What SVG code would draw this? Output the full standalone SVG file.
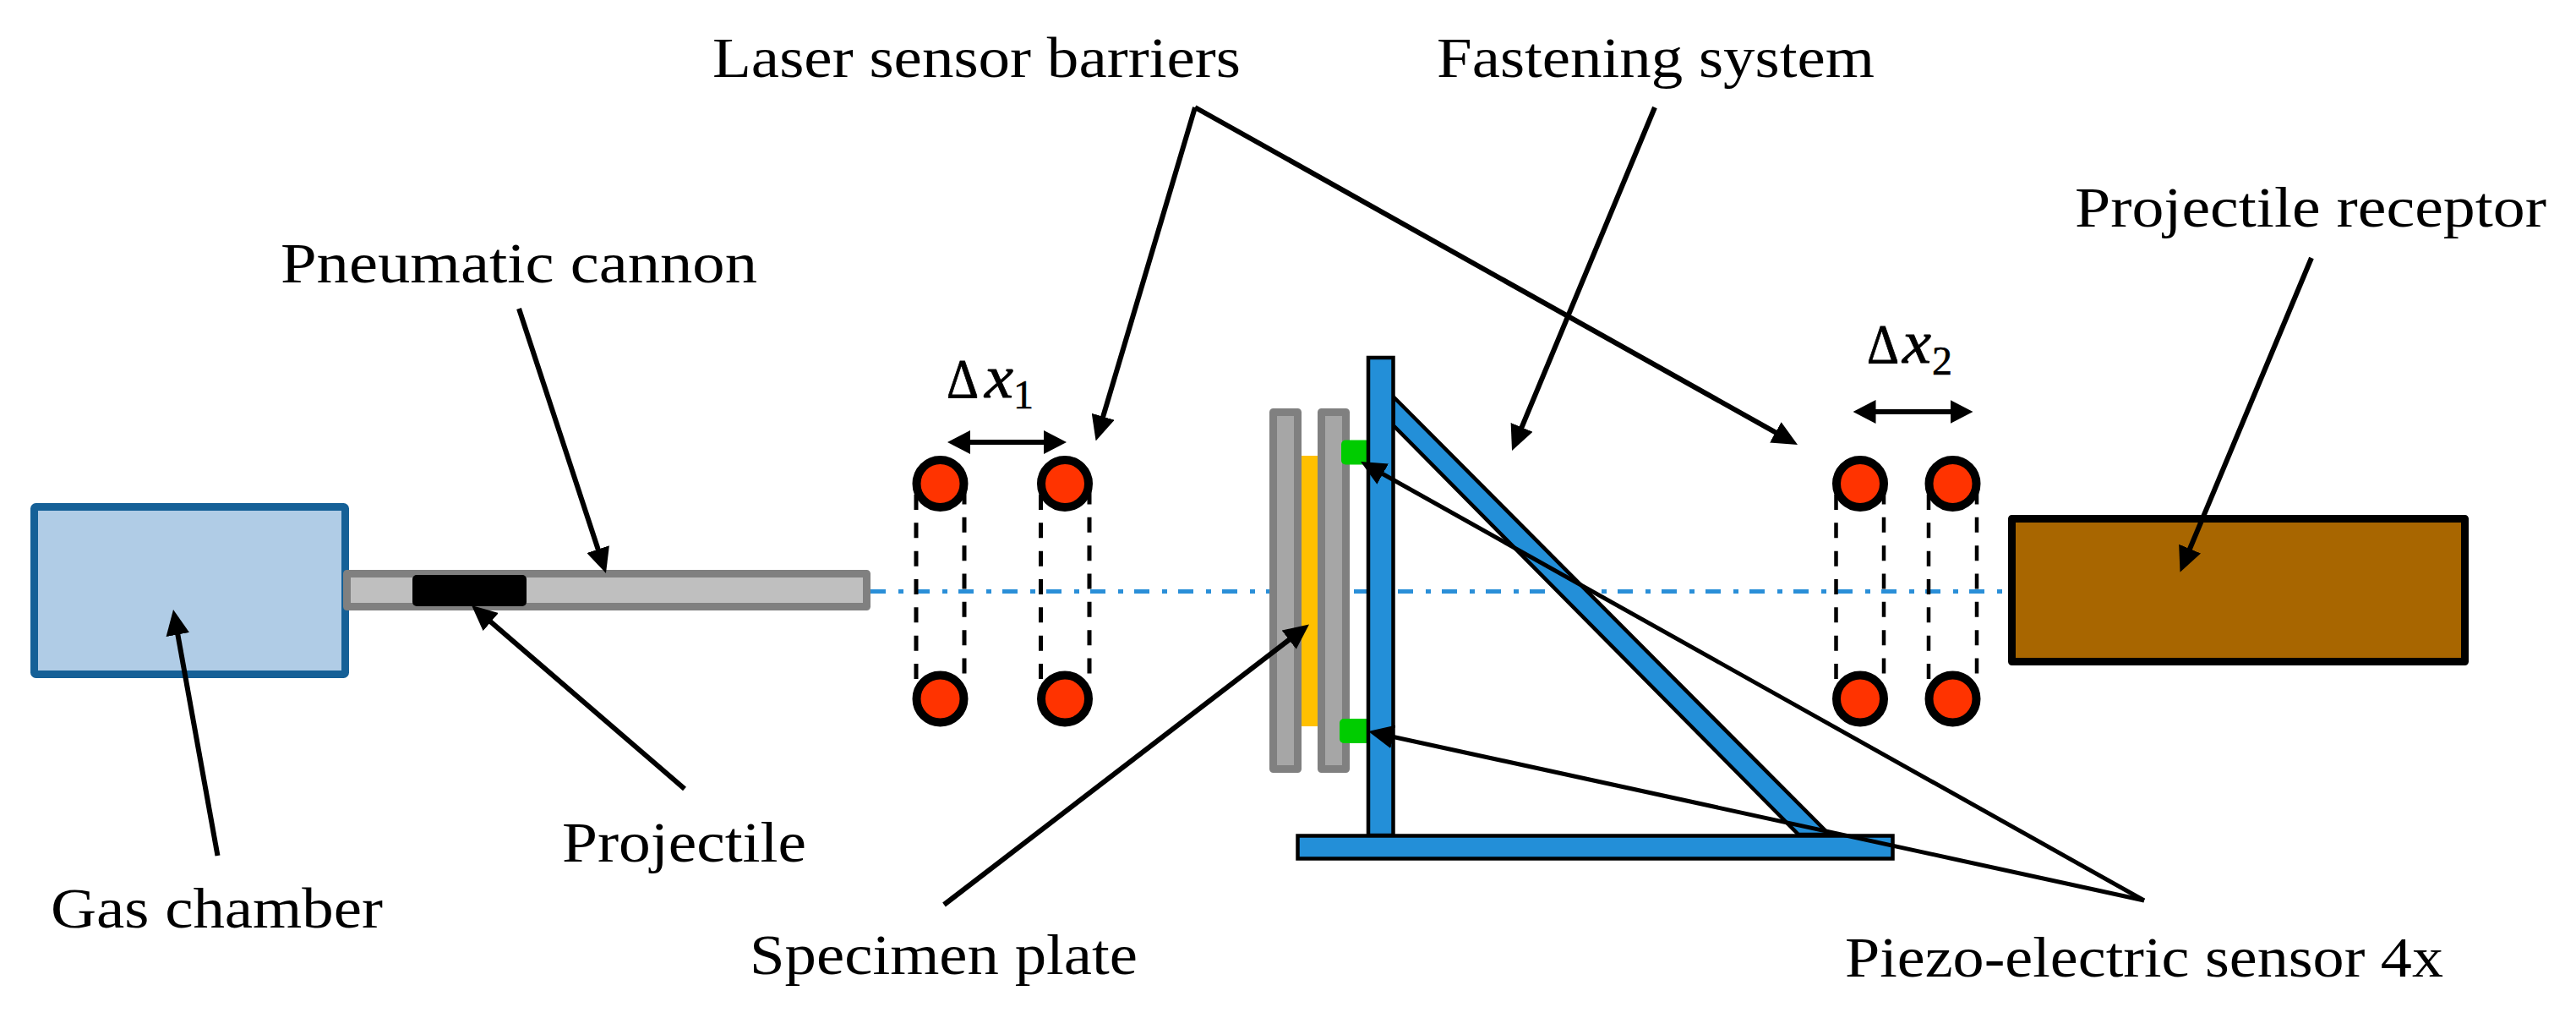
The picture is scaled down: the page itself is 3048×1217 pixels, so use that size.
<svg xmlns="http://www.w3.org/2000/svg" width="3048" height="1217" viewBox="0 0 3048 1217">
<style>
text{font-family:"Liberation Serif","Times New Roman",serif;fill:#000}
.lbl{font-size:68px}
.sym{font-size:66px;stroke:#000;stroke-width:.8}
.var{font-size:72px;font-style:italic;stroke:#000;stroke-width:.8}
.sub{font-size:48px;stroke:#000;stroke-width:.6}
.ldr{fill:none;stroke:#000;stroke-width:6;marker-end:url(#head)}
.thin{stroke-width:5}
.span{fill:none;stroke:#000;stroke-width:6;marker-start:url(#dbl);marker-end:url(#dbl)}
.axis{fill:none;stroke:#2a8fd8;stroke-width:5;stroke-dasharray:18 15 6 13}
.beam{fill:none;stroke:#000;stroke-width:5;stroke-dasharray:18 15.33}
.beam2{fill:none;stroke:#000;stroke-width:4.5;stroke-dasharray:18 15.33}
.dot{fill:#ff3300;stroke:#000;stroke-width:10}
.plate{fill:#a6a6a6;stroke:#808080;stroke-width:9;stroke-linejoin:round}
.steel{fill:#238fd8;stroke:#000;stroke-width:4.5}
.piezo{fill:#00cc00}
</style>
<defs>
<marker id="head" markerUnits="userSpaceOnUse" markerWidth="30" markerHeight="28" refX="15" refY="14" orient="auto"><path d="M0 0L30 14L0 28Z" fill="#000"/></marker>
<marker id="dbl" markerUnits="userSpaceOnUse" markerWidth="27" markerHeight="28" refX="12" refY="14" orient="auto-start-reverse"><path d="M0 0L27 14L0 28Z" fill="#000"/></marker>
</defs>
<rect width="3048" height="1217" fill="#fff"/>
<line id="axis" class="axis" x1="1030" y1="699.5" x2="2378" y2="699.5"/>
<g id="gas-chamber">
<rect x="40.500" y="599.500" width="368" height="198" rx="2" fill="#b0cce6" stroke="#156097" stroke-width="9" stroke-linejoin="round"/>
<text class="lbl" x="60" y="1097" textLength="393" lengthAdjust="spacingAndGlyphs">Gas chamber</text>
</g>
<g id="pneumatic-cannon">
<rect x="410.500" y="678.500" width="615" height="39" fill="#bfbfbf" stroke="#808080" stroke-width="9" stroke-linejoin="round"/>
<text class="lbl" x="332" y="334" textLength="564" lengthAdjust="spacingAndGlyphs">Pneumatic cannon</text>
</g>
<g id="projectile">
<rect x="488" y="680" width="135" height="37" rx="5" fill="#000"/>
<text class="lbl" x="665" y="1019" textLength="289" lengthAdjust="spacingAndGlyphs">Projectile</text>
</g>
<g id="laser-barrier-1">
<line class="beam" x1="1084" y1="585" x2="1084" y2="804"/>
<line class="beam" x1="1141" y1="578.500" x2="1141" y2="797"/>
<circle class="dot" cx="1112.500" cy="572" r="28"/>
<circle class="dot" cx="1112.500" cy="826.500" r="28"/>
</g>
<g id="laser-barrier-2">
<line class="beam" x1="1231.500" y1="585" x2="1231.500" y2="804"/>
<line class="beam" x1="1289" y1="578.500" x2="1289" y2="797"/>
<circle class="dot" cx="1260" cy="572" r="28"/>
<circle class="dot" cx="1260" cy="826.500" r="28"/>
</g>
<g id="delta-x1">
<text class="sym" x="1120" y="470" textLength="38" lengthAdjust="spacingAndGlyphs">Δ</text>
<text class="var" x="1165" y="470" textLength="34" lengthAdjust="spacingAndGlyphs">x</text>
<text class="sub" x="1199" y="483">1</text>
</g>
<g id="laser-barrier-3">
<line class="beam2" x1="2172.500" y1="585" x2="2172.500" y2="804"/>
<line class="beam2" x1="2229" y1="578.500" x2="2229" y2="797"/>
<circle class="dot" cx="2201" cy="572" r="28"/>
<circle class="dot" cx="2201" cy="826.500" r="28"/>
</g>
<g id="laser-barrier-4">
<line class="beam2" x1="2282" y1="585" x2="2282" y2="804"/>
<line class="beam2" x1="2339" y1="578.500" x2="2339" y2="797"/>
<circle class="dot" cx="2310.500" cy="572" r="28"/>
<circle class="dot" cx="2310.500" cy="826.500" r="28"/>
</g>
<g id="delta-x2">
<text class="sym" x="2209" y="429" textLength="38" lengthAdjust="spacingAndGlyphs">Δ</text>
<text class="var" x="2251" y="429" textLength="34" lengthAdjust="spacingAndGlyphs">x</text>
<text class="sub" x="2286" y="443">2</text>
</g>
<g id="laser-label"><text class="lbl" x="843" y="91" textLength="625" lengthAdjust="spacingAndGlyphs">Laser sensor barriers</text></g>
<g id="specimen-plate">
<rect x="1539.500" y="539" width="20" height="320" fill="#ffc000"/>
<rect class="plate" x="1506.500" y="487.500" width="29" height="422"/>
<rect class="plate" x="1563.500" y="487.500" width="29" height="422"/>
<text class="lbl" x="887" y="1152" textLength="459" lengthAdjust="spacingAndGlyphs">Specimen plate</text>
</g>
<g id="fastening-system">
<rect class="piezo" x="1587" y="520.500" width="34" height="29" rx="5"/>
<rect class="piezo" x="1585" y="850" width="36" height="29" rx="5"/>
<polygon class="steel" points="1648.500,469 2164.500,987 2128,987 1648.500,503"/>
<rect class="steel" x="1619" y="423" width="29.500" height="565"/>
<rect class="steel" x="1535.500" y="988.500" width="704" height="27"/>
<text class="lbl" x="1700" y="91" textLength="518" lengthAdjust="spacingAndGlyphs">Fastening system</text>
</g>
<g id="projectile-receptor">
<rect x="2380.500" y="613.500" width="536" height="169" fill="#a86600" stroke="#000" stroke-width="9" stroke-linejoin="round"/>
<text class="lbl" x="2455" y="268" textLength="558" lengthAdjust="spacingAndGlyphs">Projectile receptor</text>
</g>
<g id="piezo-label"><text class="lbl" x="2183" y="1155" textLength="708" lengthAdjust="spacingAndGlyphs">Piezo-electric sensor 4x</text></g>
<g id="connectors">
<line class="ldr" x1="614" y1="365" x2="712.300" y2="663.800"/>
<line class="ldr" x1="257.500" y1="1012" x2="207.700" y2="735.800"/>
<line class="ldr" x1="810" y1="933" x2="569.400" y2="725.800"/>
<line class="ldr" x1="1414" y1="127" x2="1300.900" y2="507.100"/>
<line class="ldr" x1="1414" y1="127" x2="2113.900" y2="518.700"/>
<line class="ldr" x1="1958" y1="127" x2="1794.800" y2="519.200"/>
<line class="ldr" x1="2735" y1="305" x2="2585.300" y2="662.900"/>
<line class="ldr" x1="1117" y1="1070" x2="1537.100" y2="747.600"/>
<line class="ldr thin" x1="2537" y1="1065" x2="1623.100" y2="553.300"/>
<line class="ldr thin" x1="2537" y1="1065" x2="1633.700" y2="868.200"/>
<line class="span" x1="1136" y1="523" x2="1247" y2="523"/>
<line class="span" x1="2207.500" y1="487" x2="2319.500" y2="487"/>
</g>
</svg>
